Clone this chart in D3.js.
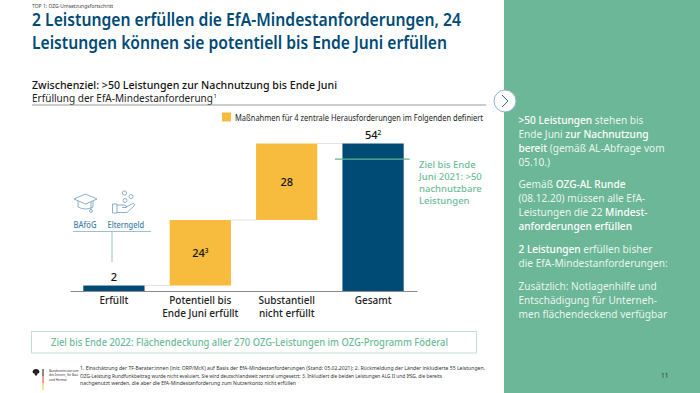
<!DOCTYPE html>
<html>
<head>
<meta charset="utf-8">
<script src="https://cdn.jsdelivr.net/npm/d3@7"></script>
<style>
html,body{margin:0;padding:0;background:#fff}
svg{display:block}
text{font-family:"Noto Sans",sans-serif}
</style>
</head>
<body>
<svg id="c" width="700" height="393"></svg>
<script>
// data
const categories = ["Erfüllt", "Potentiell bis|Ende Juni erfüllt", "Substantiell|nicht erfüllt", "Gesamt"];
const values = [2, 24, 28, 54];
const starts = [0, 2, 26, 0];
const valueSup = ["", "3", "", "2"];
const kinds = ["total", "step", "step", "total"];
const targetValue = 48.3;
const titleLines = ["2 Leistungen erfüllen die EfA-Mindestanforderungen, 24", "Leistungen können sie potentiell bis Ende Juni erfüllen"];
const targetNote = ["Ziel bis Ende", "Juni 2021: >50", "nachnutzbare", "Leistungen"];
const footnotes = [
  "1.  Einschätzung der TF-Berater:innen (init; ORP/McK) auf Basis der EfA-Mindestanforderungen (Stand: 05.02.2021);  2. Rückmeldung der Länder inkludierte 55 Leistungen.",
  "OZG-Leistung Rundfunkbeitrag wurde nicht evaluiert. Sie wird deutschlandweit zentral umgesetzt;  3. Inkludiert die beiden Leistungen ALG II und IfSG, die bereits",
  "nachgenutzt werden, die aber die EfA-Mindestanforderung zum Nutzerkonto nicht erfüllen"];
// side panel, [text, bold] runs per line
const sideText = [
  [[[">50 Leistungen", 1], [" stehen bis", 0]], [["Ende Juni ", 0], ["zur Nachnutzung", 1]], [["bereit", 1], [" (gemäß AL-Abfrage vom", 0]], [["05.10.)", 0]]],
  [[["Gemäß ", 0], ["OZG-AL Runde", 1]], [["(08.12.20) müssen alle EfA-", 0]], [["Leistungen die 22 ", 0], ["Mindest-", 1]], [["anforderungen erfüllen", 1]]],
  [[["2 Leistungen", 1], [" erfüllen bisher", 0]], [["die EfA-Mindestanforderungen:", 0]]],
  [[["Zusätzlich: Notlagenhilfe und", 0]], [["Entschädigung für Unterneh-", 0]], [["men flächendeckend verfügbar", 0]]]
];
const sideTop = [123.5, 188, 252.5, 289.5];

const navy = "#004B76", yellow = "#F7BB3D", green = "#6CB797", greenText = "#6DBB9B", iconBlue = "#6E9DBB";
const svg = d3.select("#c");

const x = d3.scaleBand().domain(categories).range([70, 417]).paddingInner(0.291).paddingOuter(0.154);
const y = d3.scaleLinear().domain([0, 54]).range([291, 143.5]);

// header
svg.append("text").attr("x", 32).attr("y", 8).attr("font-size", 5).attr("fill", "#444").text("TOP 1: OZG-Umsetzungsfortschritt");
svg.selectAll(".title").data(titleLines).join("text").attr("class", "title")
  .attr("x", 32).attr("y", (d, i) => 26 + i * 22.5)
  .attr("font-size", 18.5).attr("font-weight", 600).attr("fill", navy)
  .attr("textLength", (d, i) => i ? 415 : 429).attr("lengthAdjust", "spacingAndGlyphs").text(d => d);
svg.append("text").attr("x", 32).attr("y", 88.5).attr("font-size", 11).attr("font-weight", 500).attr("fill", "#111")
  .attr("textLength", 305).attr("lengthAdjust", "spacingAndGlyphs").text("Zwischenziel: >50 Leistungen zur Nachnutzung bis Ende Juni");
svg.append("text").attr("x", 32).attr("y", 102).attr("font-size", 10.5).attr("fill", "#222")
  .attr("textLength", 181).attr("lengthAdjust", "spacingAndGlyphs").text("Erfüllung der EfA-Mindestanforderung");
svg.append("text").attr("x", 213.5).attr("y", 98).attr("font-size", 6).attr("fill", "#222").text("1");
svg.append("line").attr("x1", 32).attr("x2", 486).attr("y1", 105).attr("y2", 105).attr("stroke", "#999").attr("stroke-width", 1);

// legend
svg.append("rect").attr("x", 222).attr("y", 112.5).attr("width", 9).attr("height", 9).attr("fill", yellow);
svg.append("text").attr("x", 235).attr("y", 120.8).attr("font-size", 8).attr("fill", "#222")
  .attr("textLength", 248).attr("lengthAdjust", "spacingAndGlyphs").text("Maßnahmen für 4 zentrale Herausforderungen im Folgenden definiert");

// connectors between bars
svg.selectAll(".conn").data(categories.slice(0, -1)).join("line").attr("class", "conn")
  .attr("x1", d => x(d) + x.bandwidth())
  .attr("x2", (d, i) => x(categories[i + 1]))
  .attr("y1", (d, i) => y(starts[i] + values[i]))
  .attr("y2", (d, i) => y(starts[i] + values[i]))
  .attr("stroke", "#e3e3e3").attr("stroke-width", 1);

// bars
svg.selectAll(".bar").data(categories).join("rect").attr("class", "bar")
  .attr("x", d => x(d)).attr("width", x.bandwidth())
  .attr("y", (d, i) => y(starts[i] + values[i]))
  .attr("height", (d, i) => y(starts[i]) - y(starts[i] + values[i]))
  .attr("fill", (d, i) => kinds[i] === "step" ? yellow : navy);

// value labels
const labels = svg.selectAll(".val").data(categories).join("text").attr("class", "val")
  .attr("text-anchor", "middle").attr("font-size", 11).attr("font-weight", 500).attr("fill", "#111")
  .attr("x", d => x(d) + x.bandwidth() / 2)
  .attr("y", (d, i) => kinds[i] === "step" ? y(starts[i] + values[i] / 2) + 4 : y(values[i]) - 4.5);
labels.append("tspan").text((d, i) => values[i]);
labels.append("tspan").attr("font-size", 6.5).attr("dy", -4).text((d, i) => valueSup[i]);

// axis
const axis = svg.append("g").attr("transform", "translate(0,291)").call(d3.axisBottom(x).tickSize(0).tickFormat(""));
axis.select(".domain").attr("stroke", "#8a8a8a").attr("stroke-width", 1.2);
svg.selectAll(".cat").data(categories).join("text").attr("class", "cat")
  .attr("text-anchor", "middle").attr("font-size", 10).attr("font-weight", 500).attr("fill", "#222")
  .attr("transform", d => `translate(${x(d) + x.bandwidth() / 2},304)`)
  .selectAll("tspan").data(d => d.split("|")).join("tspan")
  .attr("x", 0).attr("y", (d, i) => i * 12.5).text(d => d);

// target
svg.append("line").attr("x1", x("Gesamt") - 7.5).attr("x2", x("Gesamt") + x.bandwidth() + 6)
  .attr("y1", y(targetValue)).attr("y2", y(targetValue)).attr("stroke", "#5FB38F").attr("stroke-width", 1.3);
svg.selectAll(".note").data(targetNote).join("text").attr("class", "note")
  .attr("x", 419).attr("y", (d, i) => 168 + i * 12).attr("font-size", 9.5).attr("font-weight", 500).attr("fill", greenText).text(d => d);

// BAföG / Elterngeld callout
const ic = svg.append("g").attr("fill", "none").attr("stroke", iconBlue).attr("stroke-width", 0.8);
ic.append("path").attr("d", "M74 199 L85.5 194 L97 199 L85.5 204 Z M78 201 V207 Q85.5 211 93 207 V201 M91 202 V210");
ic.append("circle").attr("cx", 91).attr("cy", 211).attr("r", 1.5);
[[124.5, 193, 2.1], [131, 196.5, 2], [125, 200.5, 2]].forEach(c => ic.append("circle").attr("cx", c[0]).attr("cy", c[1]).attr("r", c[2]));
ic.append("path").attr("d", "M112.5 204 H117 V213 H112.5 Z M117 205 H124 Q126.5 205 126.5 207.5 H122 M126 207 L133 203.5 Q136 204 134 206 L127 212.5 H117");
svg.append("text").attr("x", 73.5).attr("y", 227.5).attr("font-size", 8).attr("font-weight", 500).attr("fill", "#3F7FA6")
  .attr("textLength", 23).attr("lengthAdjust", "spacingAndGlyphs").text("BAföG");
svg.append("text").attr("x", 107.5).attr("y", 227.5).attr("font-size", 8).attr("font-weight", 500).attr("fill", "#3F7FA6")
  .attr("textLength", 36.5).attr("lengthAdjust", "spacingAndGlyphs").text("Elterngeld");
svg.append("line").attr("x1", 73).attr("x2", 151).attr("y1", 231.5).attr("y2", 231.5).attr("stroke", "#9CBFD4");
svg.append("line").attr("x1", 112).attr("x2", 112).attr("y1", 231.5).attr("y2", 262).attr("stroke", "#9CBFD4");

// goal box
svg.append("rect").attr("x", 31.5).attr("y", 331.5).attr("width", 445).attr("height", 21.5)
  .attr("fill", "#fff").attr("stroke", "#BFE0D2").attr("stroke-width", 1);
svg.append("text").attr("x", 51).attr("y", 346).attr("font-size", 10).attr("font-weight", 500).attr("fill", greenText)
  .attr("textLength", 397).attr("lengthAdjust", "spacingAndGlyphs").text("Ziel bis Ende 2022: Flächendeckung aller 270 OZG-Leistungen im OZG-Programm Föderal");

// footer
svg.selectAll(".fn").data(footnotes).join("text").attr("class", "fn")
  .attr("x", 80).attr("y", (d, i) => 370 + i * 7.5).attr("font-size", 5.2).attr("fill", "#333")
  .attr("textLength", (d, i) => [405, 362, 216][i]).attr("lengthAdjust", "spacingAndGlyphs").text(d => d);
svg.append("path").attr("d", "M36 369 q-3 0 -3.5 3 q0.5 1.5 2 1.5 l0.5 2 h2 l0.5 -2 q1.5 0 2 -1.5 q-0.5 -3 -3.5 -3 Z").attr("fill", "#222");
[["#111", 369, 7], ["#D33", 376, 7], ["#F2C230", 383, 7]].forEach(s =>
  svg.append("rect").attr("x", 42.5).attr("y", s[1]).attr("width", 1).attr("height", s[2]).attr("fill", s[0]));
svg.selectAll(".min").data(["Bundesministerium", "des Innern, für Bau", "und Heimat"]).join("text").attr("class", "min")
  .attr("x", 49).attr("y", (d, i) => 371.5 + i * 4.5).attr("font-size", 3.2).attr("fill", "#333").text(d => d);

// side panel
svg.append("rect").attr("x", 504).attr("y", 0).attr("width", 196).attr("height", 393).attr("fill", green);
sideText.forEach((block, b) => {
  svg.append("g").selectAll("text").data(block).join("text")
    .attr("x", 518.5).attr("y", (d, i) => sideTop[b] + i * 14).attr("font-size", 10.1).attr("fill", "#fff")
    .selectAll("tspan").data(d => d).join("tspan")
    .attr("font-weight", d => d[1] ? 500 : 400).attr("fill-opacity", d => d[1] ? 1 : 0.88).text(d => d[0]);
});
svg.append("text").attr("x", 661).attr("y", 378).attr("font-size", 6.5).attr("fill", "#1d3d31").text("11");

// arrow bubble
svg.append("circle").attr("cx", 505).attr("cy", 101).attr("r", 11).attr("fill", "#fff").attr("stroke", "#8FB3CB").attr("stroke-width", 1);
svg.append("path").attr("d", "M502 95 L508 101 L502 107").attr("fill", "none").attr("stroke", "#2F6F99").attr("stroke-width", 1);
</script>
</body>
</html>
